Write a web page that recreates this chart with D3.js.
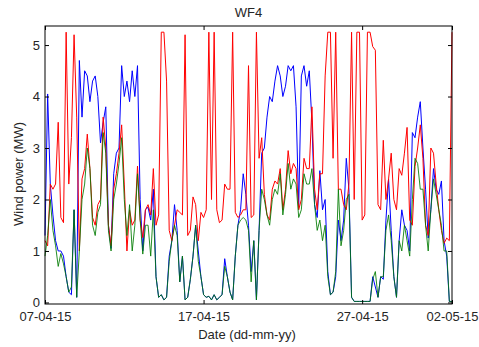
<!DOCTYPE html>
<html><head><meta charset="utf-8">
<script src="https://cdn.jsdelivr.net/npm/d3@7"></script>
<style>
body{margin:0;background:#fff}
svg{display:block}
text{font-family:"Liberation Sans",Arial,sans-serif}
</style>
</head><body>
<svg id="chart" width="479" height="347"></svg>
<script>
// ---- data (4-hourly samples starting 07-04-15 00:00) ----
const startTime = new Date(2015, 3, 7, 0, 0);
const stepHours = 4;

const redValues = [
 1.2,1.1,2.3,2.2,2.3,3.5,1.65,1.55,5.25,2.3,
 3.2,5.2,3.6,1.0,2.4,2.6,3.27,2.6,1.65,1.5,
 1.9,2.0,3.6,3.0,1.5,1.1,2.2,2.5,2.9,3.45,
 2.3,1.0,1.8,1.5,1.6,2.65,1.6,1.26,1.8,1.9,
 1.7,2.6,1.5,1.7,5.25,5.25,4.3,1.4,1.2,1.5,
 1.8,1.75,1.7,5.2,1.3,1.4,2.05,1.9,1.2,1.75,
 1.65,1.8,5.25,2.0,5.25,1.8,1.55,1.6,2.3,2.2,
 2.2,5.25,1.75,1.65,1.7,1.8,1.8,4.6,1.65,1.7,
 5.25,2.8,3.2,2.1,1.7,1.6,2.2,2.36,2.3,2.6,
 1.8,2.2,2.95,2.5,2.7,2.6,1.8,2.0,2.8,2.6,
 2.6,3.8,2.2,1.8,2.5,2.5,4.4,5.25,5.25,2.8,
 5.25,2.2,2.2,1.9,1.8,2.3,5.25,2.0,5.25,5.25,
 1.6,1.7,5.25,5.25,4.97,4.9,1.9,1.8,3.15,2.0,
 2.4,2.9,2.0,1.8,2.6,2.47,2.9,3.4,1.6,1.5,
 2.64,3.0,3.45,2.8,1.5,1.3,3.0,2.9,2.3,1.8,
 1.4,1.15,1.25,1.2,5.25
];

const blueValues = [
 1.3,4.05,2.3,1.7,1.2,1.0,1.0,0.9,0.5,0.2,
 0.15,1.8,0.1,4.7,3.6,4.5,4.4,3.9,4.3,4.4,
 4.0,3.1,3.5,3.8,1.5,1.05,2.5,2.9,3.0,4.6,
 4.0,4.3,3.9,4.5,4.0,4.6,2.0,1.0,1.8,1.85,
 1.6,2.2,0.5,0.1,0.15,0.05,0.1,0.9,1.2,1.9,
 1.4,0.4,0.9,0.05,0.1,0.45,0.9,1.5,1.0,0.5,
 0.15,0.1,0.12,0.05,0.15,0.05,0.1,0.15,0.85,0.5,
 0.2,0.05,0.9,1.5,1.8,2.5,2.1,1.5,0.6,1.2,
 0.05,1.4,2.9,3.0,3.6,4.0,3.9,4.3,4.6,4.4,
 4.0,4.2,4.6,4.5,4.6,3.8,1.85,4.4,4.6,4.2,
 4.5,3.5,1.9,1.65,2.56,1.8,2.0,0.6,0.15,0.2,
 0.5,1.6,1.2,1.6,2.8,2.2,0.1,0.02,0.02,0.02,
 0.02,0.02,0.02,0.02,0.5,0.3,0.1,0.5,0.45,1.6,
 2.4,1.4,0.5,0.1,1.2,1.8,1.5,1.4,1.0,3.3,
 3.2,3.6,3.9,3.0,2.2,1.25,1.8,2.6,2.2,2.1,
 2.36,1.2,0.9,0.02,0.02
];

const greenValues = [
 0.9,1.3,2.0,1.4,1.1,0.7,0.95,0.75,0.5,0.2,
 0.3,1.8,0.1,1.0,2.0,2.3,3.0,2.6,1.5,1.3,
 1.75,1.9,3.3,2.9,1.4,1.0,2.0,2.3,2.7,3.2,
 2.0,1.3,1.9,1.0,1.5,2.5,1.6,0.94,1.5,1.5,
 0.9,1.8,0.5,0.1,0.15,0.05,0.1,0.8,1.2,1.5,
 1.3,0.4,0.9,0.05,0.1,0.45,0.9,1.5,0.8,0.5,
 0.15,0.1,0.12,0.05,0.15,0.05,0.1,0.15,0.7,0.5,
 0.2,0.05,0.9,1.5,1.6,1.65,1.6,1.4,0.4,1.2,
 0.05,1.4,2.2,2.0,1.7,1.5,2.0,2.2,2.1,2.5,
 1.7,2.1,2.7,2.2,2.4,2.3,1.65,1.8,2.5,2.3,
 2.3,2.6,1.9,1.4,1.6,1.2,1.5,0.5,0.15,0.2,
 0.6,2.2,1.1,1.4,2.0,2.1,0.1,0.02,0.02,0.02,
 0.02,0.02,0.02,0.02,0.45,0.6,0.1,0.5,0.5,1.4,
 1.7,1.2,0.5,0.1,1.2,1.0,1.5,1.2,0.9,2.0,
 2.8,2.7,2.2,2.2,1.5,1.0,1.8,2.4,2.1,1.8,
 1.5,1.0,1.0,0.02,0.02
];

const xTickDates = [new Date(2015,3,7), new Date(2015,3,17), new Date(2015,3,27), new Date(2015,4,2,16)];
const xTickLabels = ["07-04-15", "17-04-15", "27-04-15", "02-05-15"];
const yTicks = [0, 1, 2, 3, 4, 5];
const yTickLabels = ["0", "1", "2", "3", "4", "5"];
const titleText = "WF4";
const xLabelText = "Date (dd-mm-yy)";
const yLabelText = "Wind power (MW)";

// ---- drawing ----
const svg = d3.select("#chart");
const plot = {left: 45, right: 452, top: 26, bottom: 304};
const n = redValues.length;
const times = d3.range(n).map(i => d3.timeHour.offset(startTime, i * stepHours));

const x = d3.scaleTime().domain([times[0], times[n - 1]]).range([plot.left, plot.right]);
const y = d3.scaleLinear().domain([-0.03, 5.37]).range([plot.bottom, plot.top]);

const textColor = "#262626";
const fontSize = 13;

const line = d3.line().x((d, i) => x(times[i])).y(d => y(d));

svg.append("path").datum(blueValues).attr("d", line)
  .attr("fill", "none").attr("stroke", "#0000ff").attr("stroke-width", 1);
svg.append("path").datum(redValues).attr("d", line)
  .attr("fill", "none").attr("stroke", "#ff0000").attr("stroke-width", 1);
svg.append("path").datum(greenValues).attr("d", line)
  .attr("fill", "none").attr("stroke", "#007a00").attr("stroke-width", 1).attr("stroke-opacity", 0.85);

function styleAxis(g) {
  g.selectAll(".domain").remove();
  g.selectAll("line").attr("stroke", "#000");
  g.selectAll("text").attr("font-size", fontSize).attr("fill", textColor)
    .attr("font-family", '"Liberation Sans",Arial,sans-serif');
}

svg.append("g").attr("transform", `translate(0,${plot.bottom})`)
  .call(d3.axisBottom(x).tickValues(xTickDates).tickFormat((d, i) => xTickLabels[i])
    .tickSizeInner(-4).tickSizeOuter(0).tickPadding(7.5))
  .call(styleAxis);
svg.append("g").attr("transform", `translate(0,${plot.top})`)
  .call(d3.axisTop(x).tickValues(xTickDates).tickFormat("").tickSizeInner(-4).tickSizeOuter(0))
  .call(styleAxis);
svg.append("g").attr("transform", `translate(${plot.left},0)`)
  .call(d3.axisLeft(y).tickValues(yTicks).tickFormat((d, i) => yTickLabels[i])
    .tickSizeInner(-4).tickSizeOuter(0).tickPadding(5))
  .call(styleAxis);
svg.append("g").attr("transform", `translate(${plot.right},0)`)
  .call(d3.axisRight(y).tickValues(yTicks).tickFormat("").tickSizeInner(-4).tickSizeOuter(0))
  .call(styleAxis);

svg.append("rect")
  .attr("x", plot.left).attr("y", plot.top)
  .attr("width", plot.right - plot.left).attr("height", plot.bottom - plot.top)
  .attr("fill", "none").attr("stroke", "#000").attr("stroke-width", 1);

svg.append("text").attr("x", (plot.left + plot.right) / 2).attr("y", 16.7)
  .attr("text-anchor", "middle").attr("font-size", fontSize).attr("fill", textColor).text(titleText);
svg.append("text").attr("x", (plot.left + plot.right) / 2 - 1.5).attr("y", 338.5)
  .attr("text-anchor", "middle").attr("font-size", fontSize).attr("fill", textColor).text(xLabelText);
svg.append("text").attr("transform", "translate(23,174) rotate(-90)")
  .attr("text-anchor", "middle").attr("font-size", fontSize).attr("fill", textColor).text(yLabelText);
</script>
</body></html>
